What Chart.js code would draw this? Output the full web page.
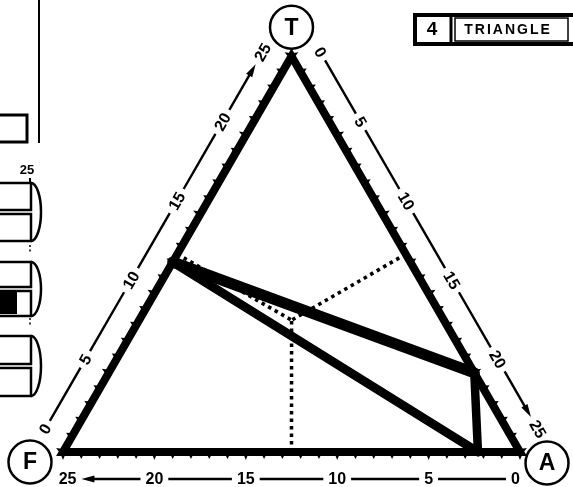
<!DOCTYPE html>
<html>
<head>
<meta charset="utf-8">
<script src="https://cdn.jsdelivr.net/npm/chart.js@4.4.1/dist/chart.umd.min.js"></script>
<style>
  html, body { margin: 0; padding: 0; background: #fff; }
  #wrap { position: relative; width: 573px; height: 487px; }
</style>
</head>
<body>
<div id="wrap"><canvas id="ternary"></canvas></div>
<script>
// corners of the diagram, every composition adds up to 25
const corners = ['T', 'F', 'A'];
const total = 25;
const scaleTicks = [0, 5, 10, 15, 20, 25];

// plotted triangle, closed back onto its first vertex
const shapeT = [12, 5, 0, 12];
const shapeF = [13, 0, 2.3, 13];
const shapeA = [0, 20, 22.7, 0];

// dotted guides from the centre to the middle of each side
const centreT = 8.33, centreF = 8.33, centreA = 8.34;
const sideMidT = [12.5, 12.5, 0];
const sideMidF = [12.5, 0, 12.5];
const sideMidA = [0, 12.5, 12.5];

// ternary -> cartesian, F corner at the origin, side length = total
const toXY = (t, f, a) => ({ x: a + t / 2, y: t * Math.sqrt(3) / 2 });

const outline = [[0, 25, 0], [0, 0, 25], [25, 0, 0], [0, 25, 0], [0, 0, 25]]
  .map(c => toXY(...c));
const shape = shapeT.map((t, i) => toXY(t, shapeF[i], shapeA[i]));
const guides = sideMidT.map((t, i) => [
  toXY(t, sideMidF[i], sideMidA[i]),
  toXY(centreT, centreF, centreA)
]);

const PX = 457 / total; // pixels per unit
const FONT = '"Liberation Sans", Arial, sans-serif';
const shapeWidths = [11, 8.5, 9];

const decorations = {
  id: 'decorations',
  afterDraw(chart) {
    const { ctx, scales: { x, y } } = chart;
    const px = (t, f, a) => {
      const p = toXY(t, f, a);
      return [x.getPixelForValue(p.x), y.getPixelForValue(p.y)];
    };
    const mid = px(total / 3, total / 3, total / 3);

    ctx.save();
    ctx.fillStyle = '#000';
    ctx.strokeStyle = '#000';

    const edges = [
      { at: v => [v, total - v, 0], shift: 0.6 },   // left side: T from F up to T
      { at: v => [total - v, 0, v], shift: 0.6 },   // right side: A from T down to A
      { at: v => [0, v, total - v], shift: 0.25 }   // base: F from A across to F
    ];

    edges.forEach(e => {
      const p0 = px(...e.at(0)), p1 = px(...e.at(total));
      const len = Math.hypot(p1[0] - p0[0], p1[1] - p0[1]);
      const ux = (p1[0] - p0[0]) / len, uy = (p1[1] - p0[1]) / len;
      let nx = (p0[0] + p1[0]) / 2 - mid[0], ny = (p0[1] + p1[1]) / 2 - mid[1];
      const nl = Math.hypot(nx, ny); nx /= nl; ny /= nl;

      // small teeth on the outside, one per unit
      for (let v = 0; v <= total; v++) {
        const p = px(...e.at(v));
        const l = v % 5 === 0 ? 8 : 7;
        ctx.beginPath();
        ctx.moveTo(p[0] + nx * 3 + ux * 2, p[1] + ny * 3 + uy * 2);
        ctx.lineTo(p[0] + nx * l, p[1] + ny * l);
        ctx.lineTo(p[0] + nx * 3 - ux * 2, p[1] + ny * 3 - uy * 2);
        ctx.closePath();
        ctx.fill();
      }

      // scale numbers set along a parallel rule
      let ang = Math.atan2(uy, ux);
      if (ang > Math.PI / 2 || ang < -Math.PI / 2) ang += Math.PI;
      ctx.font = 'bold 16px ' + FONT;
      const marks = scaleTicks.map(v => {
        const vv = v === 0 ? e.shift : v === total ? total - e.shift : v;
        const p = px(...e.at(vv));
        return {
          text: String(v),
          x: p[0] + nx * 27, y: p[1] + ny * 27,
          half: ctx.measureText(String(v)).width / 2 + 5
        };
      });
      marks.forEach(m => {
        ctx.save();
        ctx.translate(m.x, m.y);
        ctx.rotate(ang);
        ctx.textAlign = 'center';
        ctx.textBaseline = 'middle';
        ctx.fillText(m.text, 0, 1);
        ctx.restore();
      });
      ctx.lineWidth = 2.4;
      ctx.lineCap = 'butt';
      for (let i = 0; i < marks.length - 1; i++) {
        const a = marks[i], b = marks[i + 1];
        const sx = a.x + ux * a.half, sy = a.y + uy * a.half;
        const ex = b.x - ux * b.half, ey = b.y - uy * b.half;
        const last = i === marks.length - 2;
        ctx.beginPath();
        ctx.moveTo(sx, sy);
        ctx.lineTo(last ? ex - ux * 8 : ex, last ? ey - uy * 8 : ey);
        ctx.stroke();
        if (last) {
          ctx.beginPath();
          ctx.moveTo(ex, ey);
          ctx.lineTo(ex - ux * 13 + nx * 3.5, ey - uy * 13 + ny * 3.5);
          ctx.lineTo(ex - ux * 13 - nx * 3.5, ey - uy * 13 - ny * 3.5);
          ctx.closePath();
          ctx.fill();
        }
      }
    });

    // corner letters in circles
    const circ = [[0, -29], [-33, 10], [27, 11]];
    const cornerAt = [[25, 0, 0], [0, 25, 0], [0, 0, 25]];
    corners.forEach((c, i) => {
      const p = px(...cornerAt[i]);
      const cx = p[0] + circ[i][0], cy = p[1] + circ[i][1];
      ctx.fillStyle = '#fff';
      ctx.beginPath();
      ctx.arc(cx, cy, 21.5, 0, Math.PI * 2);
      ctx.fill();
      ctx.fillStyle = '#000';
      ctx.lineWidth = 2.5;
      ctx.stroke();
      ctx.font = 'bold 23px ' + FONT;
      ctx.textAlign = 'center';
      ctx.textBaseline = 'middle';
      ctx.fillText(c, cx, cy + 1);
    });

    // title box
    ctx.lineWidth = 4;
    ctx.strokeRect(415, 15, 160, 29);
    ctx.lineWidth = 3;
    ctx.beginPath(); ctx.moveTo(451, 15); ctx.lineTo(451, 44); ctx.stroke();
    ctx.lineWidth = 1.5;
    ctx.strokeRect(455, 18, 113, 23);
    ctx.font = 'bold 19px ' + FONT;
    ctx.fillText('4', 432, 30);
    ctx.font = 'bold 14px ' + FONT;
    ctx.letterSpacing = '2px';
    ctx.fillText('TRIANGLE', 508, 30);
    ctx.letterSpacing = '0px';

    // edge of the neighbouring panel
    ctx.lineWidth = 2;
    ctx.beginPath(); ctx.moveTo(39, 0); ctx.lineTo(39, 143); ctx.stroke();
    ctx.lineWidth = 3;
    ctx.strokeRect(-5, 115, 32, 27);
    ctx.font = 'bold 13px ' + FONT;
    ctx.textAlign = 'center';
    ctx.fillText('25', 27, 170);
    ctx.lineWidth = 2;
    ctx.beginPath(); ctx.moveTo(30, 178); ctx.lineTo(30, 184); ctx.stroke();
    [[183, 241], [262, 316], [336, 396]].forEach(([y0, y1]) => {
      const ym = (y0 + y1) / 2;
      ctx.lineWidth = 2.5;
      ctx.strokeRect(-5, y0, 36, ym - y0 - 2);
      ctx.strokeRect(-5, ym + 2, 36, y1 - ym - 2);
      ctx.beginPath();
      ctx.ellipse(31, ym, 10, (y1 - y0) / 2, 0, -Math.PI / 2, Math.PI / 2);
      ctx.stroke();
    });
    ctx.fillRect(0, 292, 17, 22);
    [[245, 254], [318, 327]].forEach(([a, b]) => {
      ctx.lineWidth = 1.5;
      ctx.setLineDash([2, 2.5]);
      ctx.beginPath(); ctx.moveTo(30, a); ctx.lineTo(30, b); ctx.stroke();
    });
    ctx.setLineDash([]);
    ctx.restore();
  }
};

new Chart(document.getElementById('ternary'), {
  type: 'scatter',
  data: {
    datasets: [
      {
        data: shape, showLine: true, borderColor: '#000', borderWidth: 9,
        borderJoinStyle: 'round', borderCapStyle: 'round',
        segment: { borderWidth: ctx => shapeWidths[ctx.p0DataIndex] },
        pointRadius: 0, order: 0
      },
      {
        data: outline, showLine: true, borderColor: '#000', borderWidth: 8,
        borderJoinStyle: 'miter', pointRadius: 0, order: 1
      },
      ...guides.map(g => ({
        data: g, showLine: true, borderColor: '#000', borderWidth: 3.5,
        borderDash: [3.5, 4], pointRadius: 0, order: 2
      }))
    ]
  },
  options: {
    responsive: true,
    maintainAspectRatio: false,
    animation: false,
    layout: { padding: 0 },
    plugins: { legend: { display: false }, tooltip: { enabled: false } },
    scales: {
      x: { type: 'linear', display: false, min: -63 / PX, max: (573 - 63) / PX },
      y: { type: 'linear', display: false, min: -(487 - 452) / PX, max: 452 / PX }
    }
  },
  plugins: [decorations]
});
</script>
</body>
</html>
